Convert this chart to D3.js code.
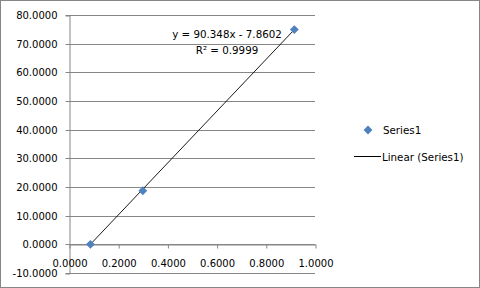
<!DOCTYPE html>
<html>
<head>
<meta charset="utf-8">
<script src="https://cdn.jsdelivr.net/npm/d3@7"></script>
<style>
	body { margin: 0; background: #fff; }
	text { font-family: "DejaVu Sans", sans-serif; font-size: 10.3px; fill: #000; }
</style>
</head>
<body>
<div id="chart"></div>
<script>
// データ
const xValues = [0.087, 0.3, 0.916];
const yValues = [0, 18.7, 74.9];
const xTicks = [0, 0.2, 0.4, 0.6, 0.8, 1.0];
const yTicks = [-10, 0, 10, 20, 30, 40, 50, 60, 70, 80];
const trendSlope = 90.348;
const trendIntercept = -7.8602;
const trendLabels = ['y = 90.348x - 7.8602', 'R² = 0.9999'];
const legendLabels = ['Series1', 'Linear (Series1)'];

const width = 480;
const height = 288;
const gray = '#868686';
const blue = '#4f81bd';

// Excel風の数値表示（ハイフンのマイナス）
const fmt = d => d3.format('.4f')(d).replace('−', '-');

const svg = d3.select('#chart')
	.append('svg')
	.attr('width', width)
	.attr('height', height);

// 枠線
svg.append('rect')
	.attr('x', 0.5).attr('y', 0.5)
	.attr('width', width - 1).attr('height', height - 1)
	.attr('fill', '#fff')
	.attr('stroke', gray);

const x = d3.scaleLinear().domain([0, 1]).range([69, 315]);
const y = d3.scaleLinear().domain([-10, 80]).range([273, 15]);

// グリッド線
svg.append('g')
	.selectAll('line')
	.data(yTicks)
	.enter().append('line')
	.attr('x1', x(0)).attr('x2', x(1))
	.attr('y1', d => Math.round(y(d)) + 0.5)
	.attr('y2', d => Math.round(y(d)) + 0.5)
	.attr('stroke', gray);

// Y軸
const yAxis = svg.append('g')
	.attr('transform', `translate(${x(0) + 0.5},0.5)`)
	.call(d3.axisLeft(y).tickValues(yTicks).tickFormat(fmt).tickSize(4).tickPadding(8));
yAxis.select('.domain').attr('stroke', gray);
yAxis.selectAll('.tick line').attr('stroke', gray);
yAxis.selectAll('.tick').attr('transform', d => `translate(0,${Math.round(y(d))})`);

// X軸 (y = 0 の位置)
const xAxis = svg.append('g')
	.attr('transform', `translate(0.5,${Math.round(y(0)) + 0.5})`)
	.call(d3.axisBottom(x).tickValues(xTicks).tickFormat(fmt).tickSize(4).tickSizeOuter(0).tickPadding(11));
xAxis.select('.domain').attr('stroke', gray);
xAxis.selectAll('.tick line').attr('stroke', gray);
svg.selectAll('.tick text').style('font-family', '"DejaVu Sans", sans-serif').style('font-size', '10px').attr('fill', '#000');

// 近似直線
const xMin = d3.min(xValues);
const xMax = d3.max(xValues);
svg.append('line')
	.attr('x1', x(xMin)).attr('y1', y(trendSlope * xMin + trendIntercept))
	.attr('x2', x(xMax)).attr('y2', y(trendSlope * xMax + trendIntercept))
	.attr('stroke', '#000')
	.attr('stroke-width', 0.9);

// マーカー
const diamond = d3.symbol().type(d3.symbolDiamond2).size(50);
svg.append('g')
	.selectAll('path')
	.data(xValues.map((v, i) => [v, yValues[i]]))
	.enter().append('path')
	.attr('d', diamond)
	.attr('transform', d => `translate(${x(d[0])},${y(d[1])})`)
	.attr('fill', blue);

// 数式ラベル
svg.append('g')
	.selectAll('text')
	.data(trendLabels)
	.enter().append('text')
	.attr('x', 227)
	.attr('y', (d, i) => 38 + i * 15.5)
	.attr('text-anchor', 'middle')
	.text(d => d);

// 凡例
svg.append('path')
	.attr('d', diamond)
	.attr('transform', 'translate(368,130)')
	.attr('fill', blue);
svg.append('line')
	.attr('x1', 354).attr('x2', 381)
	.attr('y1', 156.5).attr('y2', 156.5)
	.attr('stroke', '#000');
svg.append('g')
	.selectAll('text')
	.data(legendLabels)
	.enter().append('text')
	.attr('x', (d, i) => i === 0 ? 383 : 382)
	.attr('y', (d, i) => 134 + i * 26.5)
	.text(d => d);
</script>
</body>
</html>
